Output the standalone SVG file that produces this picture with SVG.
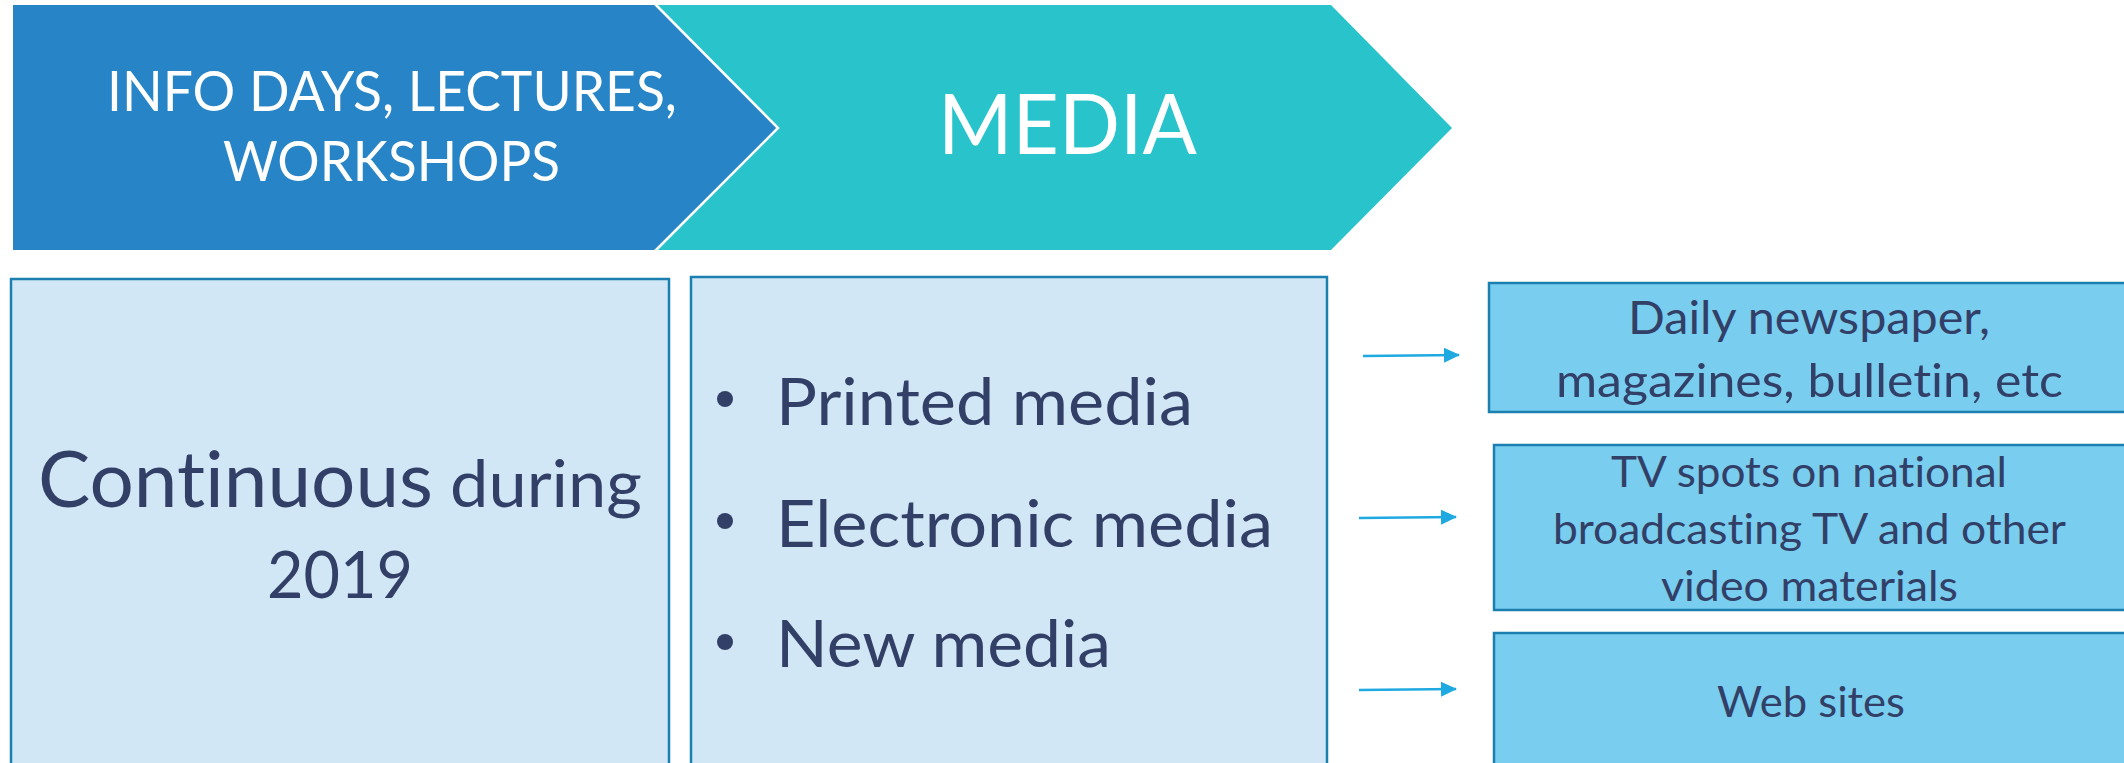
<svg xmlns="http://www.w3.org/2000/svg" width="2124" height="763" viewBox="0 0 2124 763">
  <style>
    .t { font-family: Lato, "Open Sans", "Liberation Sans", sans-serif; font-variant-ligatures: none; font-feature-settings: "liga" 0, "dlig" 0; }
    .white { fill: #FFFFFF; }
    .navy { fill: #323F67; }
    .light { fill: #D2E7F5; stroke: #1B7FB0; stroke-width: 2.5; }
    .sky { fill: #79CDEF; stroke: #1B7FB0; stroke-width: 2.5; }
    .conn { stroke: #1FA9E1; stroke-width: 2.5; fill: none; }
  </style>
  <defs>
    <marker id="arrow" viewBox="0 0 16 16" refX="15" refY="8" markerWidth="16" markerHeight="16" markerUnits="userSpaceOnUse" orient="auto">
      <path d="M0,0.5 L16,8 L0,15.5 Z" fill="#1FA9E1"/>
    </marker>
  </defs>
  <rect x="0" y="0" width="2124" height="763" fill="#FFFFFF"/>

  <g id="stage-media">
    <polygon points="655,5 1331,5 1452,128 1331,250 655,250 778,128" fill="#29C4CB"/>
    <text class="t white" x="938" y="154" font-size="84" textLength="259" lengthAdjust="spacingAndGlyphs">MEDIA</text>
  </g>

  <g id="stage-info">
    <polygon points="13,5 655,5 778,128 655,250 13,250" fill="#2784C6"/>
    <polyline points="655,4 778,128 655,251" fill="none" stroke="#FFFFFF" stroke-width="2.5"/>
    <text class="t white" x="107" y="111" font-size="56" textLength="570" lengthAdjust="spacingAndGlyphs">INFO DAYS, LECTURES,</text>
    <text class="t white" x="223" y="181" font-size="56" textLength="337" lengthAdjust="spacingAndGlyphs">WORKSHOPS</text>
  </g>

  <g id="box-continuous">
    <rect class="light" x="11" y="279" width="658" height="500"/>
    <text class="t navy" x="38" y="507" font-size="77" textLength="395" lengthAdjust="spacingAndGlyphs">Continuous</text>
    <text class="t navy" x="450" y="507" font-size="66" textLength="192" lengthAdjust="spacingAndGlyphs">during</text>
    <text class="t navy" x="267" y="598" font-size="66" textLength="146" lengthAdjust="spacingAndGlyphs">2019</text>
  </g>

  <g id="box-media-types">
    <rect class="light" x="691" y="277" width="636" height="500"/>
    <circle class="navy" cx="725" cy="399" r="8"/>
    <circle class="navy" cx="725" cy="521" r="8"/>
    <circle class="navy" cx="725" cy="642" r="8"/>
    <text class="t navy" x="776" y="425" font-size="66" textLength="417" lengthAdjust="spacingAndGlyphs">Printed media</text>
    <text class="t navy" x="776" y="547" font-size="66" textLength="497" lengthAdjust="spacingAndGlyphs">Electronic media</text>
    <text class="t navy" x="776" y="667" font-size="66" textLength="335" lengthAdjust="spacingAndGlyphs">New media</text>
  </g>

  <g id="box-printed">
    <rect class="sky" x="1489" y="283" width="660" height="129"/>
    <text class="t navy" x="1628" y="334" font-size="47" textLength="362" lengthAdjust="spacingAndGlyphs">Daily newspaper,</text>
    <text class="t navy" x="1556" y="397" font-size="47" textLength="507" lengthAdjust="spacingAndGlyphs">magazines, bulletin, etc</text>
  </g>

  <g id="box-electronic">
    <rect class="sky" x="1494" y="445" width="660" height="165"/>
    <text class="t navy" x="1611" y="487" font-size="43" textLength="396" lengthAdjust="spacingAndGlyphs">TV spots on national</text>
    <text class="t navy" x="1553" y="544" font-size="43" textLength="513" lengthAdjust="spacingAndGlyphs">broadcasting TV and other</text>
    <text class="t navy" x="1661" y="601" font-size="43" textLength="297" lengthAdjust="spacingAndGlyphs">video materials</text>
  </g>

  <g id="box-new">
    <rect class="sky" x="1494" y="633" width="660" height="160"/>
    <text class="t navy" x="1717" y="717" font-size="43" textLength="188" lengthAdjust="spacingAndGlyphs">Web sites</text>
  </g>

  <g id="connectors">
    <line class="conn" x1="1363" y1="356" x2="1459" y2="355" marker-end="url(#arrow)"/>
    <line class="conn" x1="1359" y1="518" x2="1456" y2="517" marker-end="url(#arrow)"/>
    <line class="conn" x1="1359" y1="690" x2="1456" y2="689" marker-end="url(#arrow)"/>
  </g>
</svg>
